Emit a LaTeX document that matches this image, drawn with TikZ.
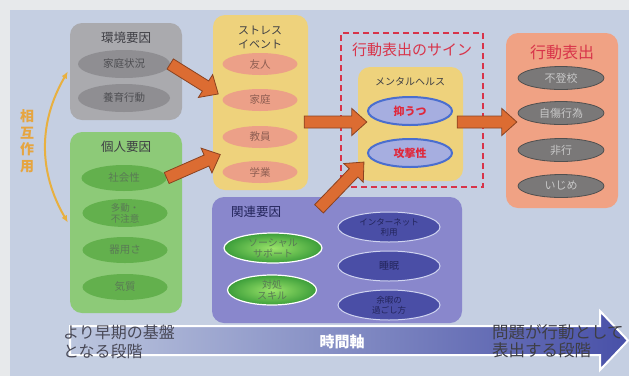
\documentclass[tikz,border=0pt]{standalone}
\usepackage{fontspec}
\setmainfont{Noto Sans CJK JP}
\usetikzlibrary{shapes.geometric,calc,arrows.meta}

\definecolor{outerbg}{HTML}{E7E9EB}
\definecolor{panel}{HTML}{C5CFE2}
\definecolor{graybox}{HTML}{AAAAAE}
\definecolor{grayell}{HTML}{8F8E92}
\definecolor{graytext}{HTML}{4E4E52}
\definecolor{greenbox}{HTML}{8DCA78}
\definecolor{greenell}{HTML}{63B04D}
\definecolor{greentext}{HTML}{5A7A55}
\definecolor{yellowbox}{HTML}{EED27C}
\definecolor{pinkell}{HTML}{ECA088}
\definecolor{pinktext}{HTML}{8E5E52}
\definecolor{mentalell}{HTML}{A6AEE0}
\definecolor{mentalborder}{HTML}{4A6ECF}
\definecolor{mentaltext}{HTML}{E0283C}
\definecolor{signred}{HTML}{D8344A}
\definecolor{salmonbox}{HTML}{F0A284}
\definecolor{hyoell}{HTML}{7A7878}
\definecolor{hyoborder}{HTML}{505050}
\definecolor{hyotext}{HTML}{C8C8C8}
\definecolor{purplebox}{HTML}{8987CC}
\definecolor{supportin}{HTML}{9BE46A}
\definecolor{supportout}{HTML}{3C9E3A}
\definecolor{blueell}{HTML}{4A4EA6}
\definecolor{blueborder}{HTML}{D0D4F0}
\definecolor{bluetext}{HTML}{22245A}
\definecolor{fatorange}{HTML}{DC6C32}
\definecolor{fatborder}{HTML}{8A4220}
\definecolor{arccol}{HTML}{E8B040}
\definecolor{sogotext}{HTML}{E6A540}
\definecolor{titletext}{HTML}{3E3E44}
\definecolor{darktext}{HTML}{484856}
\definecolor{axisleft}{HTML}{BCC6DE}
\definecolor{axismid}{HTML}{7078BA}
\definecolor{axisright}{HTML}{4850A8}

\newcommand{\fsz}[2]{\fontsize{#1}{#2}\selectfont}
\newcommand{\fatarrow}[2]{%
  \draw[fat] let \p1=(#1), \p2=(#2),
    \n1={atan2(\y2-\y1,\x2-\x1)}, \n2={veclen(\x2-\x1,\y2-\y1)} in
    [shift={(\p1)}, rotate=\n1]
    (0pt,-6pt) -- (\n2-15pt,-6pt) -- (\n2-15pt,-13.5pt) -- (\n2+0pt,0pt)
    -- (\n2-15pt,13.5pt) -- (\n2-15pt,6pt) -- (0pt,6pt) -- cycle;}

\begin{document}
\begin{tikzpicture}[x=1pt,y=-1pt,
  box/.style={rounded corners=12pt, inner sep=0pt},
  title/.style={font=\fsz{12.5}{14}, text=titletext, align=center, inner sep=0pt},
  pill/.style={ellipse, inner sep=0pt, align=center, font=\fsz{10.5}{12}},
  grayp/.style={pill, fill=grayell, text=graytext, minimum width=92, minimum height=28},
  greenp/.style={pill, fill=greenell, text=greentext, minimum width=85, minimum height=26},
  pinkp/.style={pill, fill=pinkell, text=pinktext, minimum width=75, minimum height=22},
  mentalp/.style={pill, fill=mentalell, draw=mentalborder, line width=2pt, text=mentaltext,
    font=\fsz{11}{12}\bfseries, minimum width=84, minimum height=28},
  hyop/.style={pill, fill=hyoell, draw=hyoborder, line width=.8pt, text=hyotext,
    font=\fsz{11}{12}, minimum width=86, minimum height=23},
  supportp/.style={pill, inner color=supportin, outer color=supportout,
    draw=white, line width=1.2pt, text=greentext, font=\fsz{10}{11}, minimum height=30},
  bluep/.style={pill, fill=blueell, draw=blueborder, line width=1pt, text=bluetext,
    font=\fsz{8.5}{10}, minimum width=102, minimum height=30},
  fat/.style={fill=fatorange, draw=fatborder, line width=.8pt, line join=miter},
  sogoarc/.style={draw=arccol, line width=2pt, {Latex[length=7pt,width=6pt]}-{Latex[length=7pt,width=6pt]}},
  timeaxis/.style={left color=axisleft, middle color=axismid, right color=axisright, draw=white, line width=2pt}]

  \useasboundingbox (0,0) rectangle (629,376);
  \fill[outerbg] (0,0) rectangle (629,376);
  \fill[panel] (10,10) rectangle (629,376);

  \draw[timeaxis] (70,326) -- (600,326) -- (600,311) -- (628,340.5) -- (600,370) -- (600,355) -- (70,355) -- cycle;

  \node (kankyo) [box, fill=graybox, minimum width=112, minimum height=97] at (126,71.5) {};
  \node (kojin) [box, fill=greenbox, minimum width=112, minimum height=181] at (126,222.5) {};
  \node (stress) [box, fill=yellowbox, minimum width=95, minimum height=175] at (260.5,102.5) {};
  \node (sign) [draw=signred, line width=1.8pt, dash pattern=on 6pt off 4pt, minimum width=142, minimum height=154] at (412,110) {};
  \node (mental) [box, fill=yellowbox, minimum width=105, minimum height=114] at (410.5,124) {};
  \node (hyo) [box, fill=salmonbox, minimum width=112, minimum height=175] at (562,120.5) {};
  \node (kanren) [box, fill=purplebox, minimum width=250, minimum height=126] at (337,260) {};

  \node (kankyot) [title] at (126,38) {環境要因};
  \node (kojint) [title] at (126,147) {個人要因};
  \node (stresst) [title, font=\fsz{11}{14}] at (260,37) {ストレス\\イベント};
  \node (signt) [title, text=signred, font=\fsz{15}{15}] at (412,50) {行動表出のサイン};
  \node (mentalt) [title, font=\fsz{10}{10}] at (410,82) {メンタルヘルス};
  \node (hyot) [title, text=signred, font=\fsz{16}{16}] at (562,52) {行動表出};
  \node (kanrent) [title, text=bluetext] at (256,212) {関連要因};

  \node (katei) [grayp] at (124,64) {家庭状況};
  \node (yoiku) [grayp] at (124,98) {養育行動};

  \node (shakai) [greenp] at (124,178) {社会性};
  \node (tado) [greenp, font=\fsz{9.5}{11}] at (125,213) {多動・\\不注意};
  \node (kiyo) [greenp] at (125,250) {器用さ};
  \node (kishitsu) [greenp] at (125,287) {気質};

  \node (yujin) [pinkp] at (260,64) {友人};
  \node (katei2) [pinkp] at (260,100) {家庭};
  \node (kyoin) [pinkp] at (260,137) {教員};
  \node (gakugyo) [pinkp] at (260,172) {学業};

  \node (yokuutsu) [mentalp] at (410,111) {抑うつ};
  \node (kogeki) [mentalp] at (410,153) {攻撃性};

  \node (futoko) [hyop] at (561,78) {不登校};
  \node (jisho) [hyop] at (561,113) {自傷行為};
  \node (hiko) [hyop] at (561,150) {非行};
  \node (ijime) [hyop] at (561,186) {いじめ};

  \node (social) [supportp, minimum width=98] at (273,248) {ソーシャル\\サポート};
  \node (coping) [supportp, minimum width=89] at (272,290) {対処\\スキル};
  \node (net) [bluep] at (389,227) {インターネット\\利用};
  \node (sleep) [bluep, font=\fsz{10}{11}] at (389,266) {睡眠};
  \node (leisure) [bluep] at (389,305) {余暇の\\過ごし方};

  \fatarrow{katei.east}{$(katei2.west)+(-4,-6)$}
  \fatarrow{shakai.east}{$(kyoin.west)!0.5!(gakugyo.west)+(-2,0)$}
  \fatarrow{$(stress.east |- mental.west)+(-4,-2)$}{$(mental.west)+(9,-2)$}
  \fatarrow{$(kanren.north)+(-18,12)$}{$(kogeki.west)+(-3,9)$}
  \fatarrow{$(mental.east)+(-6,-2)$}{$(hyo.west |- mental.east)+(11,-2)$}

  \node (sogo) [align=center, font=\fsz{14}{16.5}\bfseries, text=sogotext] at (27,141) {相\\互\\作\\用};
  \draw[sogoarc] ([xshift=-2pt]kankyo.west) to[bend right=30] ([xshift=-2pt]kojin.west);

  \node (jikan) [font=\fsz{15}{15}\bfseries, text=white] at (342,342) {時間軸};
  \node (early) [anchor=west, align=left, font=\fsz{16}{19}, text=darktext, inner sep=0pt] at (63,342) {より早期の基盤\\となる段階};
  \node (late) [anchor=west, align=left, font=\fsz{16.5}{18.5}, text=titletext, inner sep=0pt] at (492,341) {問題が行動として\\表出する段階};
\end{tikzpicture}
\end{document}
